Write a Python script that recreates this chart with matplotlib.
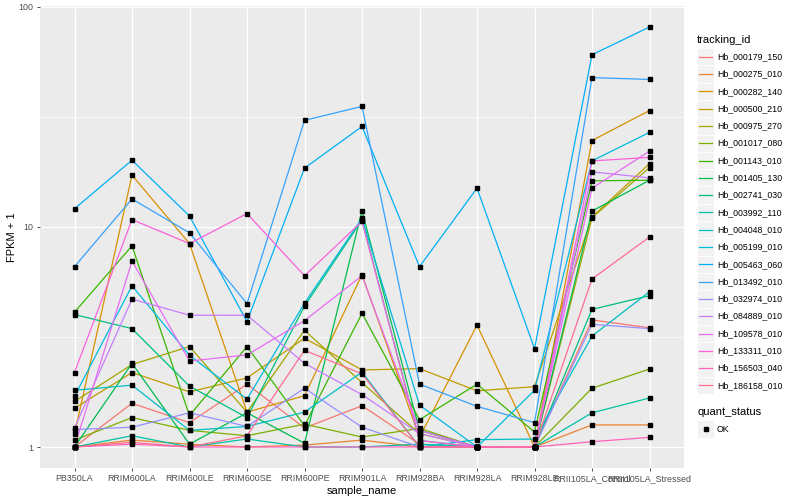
import numpy as np
import matplotlib.pyplot as plt
from matplotlib.patches import Rectangle
from matplotlib.lines import Line2D

plt.rcParams['font.family'] = ['Liberation Sans', 'DejaVu Sans']

samples = ['PB350LA', 'RRIM600LA', 'RRIM600LE', 'RRIM600SE', 'RRIM600PE', 'RRIM901LA',
           'RRIM928BA', 'RRIM928LA', 'RRIM928LE', 'RRII105LA_Control', 'RRII105LA_Stressed']

tracking_ids = ['Hb_000179_150', 'Hb_000275_010', 'Hb_000282_140', 'Hb_000500_210',
                'Hb_000975_270', 'Hb_001017_080', 'Hb_001143_010', 'Hb_001405_130',
                'Hb_002741_030', 'Hb_003992_110', 'Hb_004048_010', 'Hb_005199_010',
                'Hb_005463_060', 'Hb_013492_010', 'Hb_032974_010', 'Hb_084889_010',
                'Hb_109578_010', 'Hb_133311_010', 'Hb_156503_040', 'Hb_186158_010']

# FPKM + 1 per sample
s000179 = [1.0, 1.58, 1.29, 1.93, 1.22, 1.54, 1.03, 1.0, 1.0, 3.78, 3.48]
s000275 = [1.0, 1.075, 1.03, 1.0, 1.02, 1.075, 1.0, 1.0, 1.0, 1.26, 1.26]
s000282 = [1.145, 17.2, 8.4, 1.44, 1.71, 6.07, 1.105, 3.58, 1.0, 24.7, 33.8]
s000500 = [1.50, 2.18, 1.78, 2.06, 3.12, 2.24, 2.27, 1.80, 1.88, 11.1, 19.4]
s000975 = [1.61, 2.37, 2.86, 1.44, 3.39, 1.96, 1.15, 1.0, 1.0, 11.0, 18.6]
s001017 = [1.075, 1.36, 1.19, 1.125, 1.27, 1.11, 1.215, 1.0, 1.0, 1.85, 2.26]
s001143 = [4.1, 8.2, 1.39, 2.86, 1.25, 4.05, 1.33, 1.93, 1.17, 16.2, 16.3]
s001405 = [1.0, 2.4, 1.03, 1.43, 1.04, 11.85, 1.19, 1.0, 1.0, 11.8, 16.3]
s002741 = [4.0, 3.45, 1.89, 1.36, 4.37, 10.76, 1.07, 1.0, 1.0, 4.22, 4.87]
s003992 = [1.0, 1.125, 1.0, 1.087, 1.0, 1.0, 1.03, 1.0, 1.0, 1.43, 1.67]
s004048 = [1.81, 1.91, 1.19, 1.24, 1.44, 2.19, 1.0, 1.08, 1.087, 3.19, 5.08]
s005199 = [1.70, 5.4, 2.61, 1.65, 4.5, 10.95, 1.55, 1.0, 1.81, 19.95, 26.9]
s005463 = [12.1, 20.1, 11.2, 3.71, 18.5, 28.6, 6.6, 15.0, 2.8, 60.6, 81.0]
s013492 = [6.6, 13.4, 9.4, 4.48, 30.5, 35.3, 1.93, 1.53, 1.29, 47.7, 46.8]
s032974 = [1.2, 1.23, 1.43, 1.24, 1.85, 1.23, 1.0, 1.0, 1.0, 3.61, 3.45]
s084889 = [1.22, 4.7, 3.97, 3.97, 2.4, 1.73, 1.15, 1.0, 1.0, 17.8, 16.7]
s109578 = [1.0, 7.0, 2.46, 2.62, 3.75, 6.0, 1.19, 1.0, 1.0, 15.0, 22.1]
s133311 = [2.18, 10.8, 8.4, 11.5, 6.0, 10.6, 1.07, 1.0, 1.0, 19.95, 20.7]
s156503 = [1.0, 1.03, 1.0, 1.0, 1.0, 1.0, 1.0, 1.0, 1.0, 1.057, 1.106]
s186158 = [1.0, 1.05, 1.0, 1.125, 2.75, 2.15, 1.0, 1.0, 1.0, 5.8, 9.0]

series = [s000179, s000275, s000282, s000500, s000975, s001017, s001143, s001405,
          s002741, s003992, s004048, s005199, s005463, s013492, s032974, s084889,
          s109578, s133311, s156503, s186158]

colors = ['#F8766D', '#EA8331', '#D89000', '#C09B00', '#A3A500', '#7CAE00', '#39B600',
          '#00BB4E', '#00BF7D', '#00C1A3', '#00BFC4', '#00BAE0', '#00B0F6', '#35A2FF',
          '#9590FF', '#C77CFF', '#E76BF3', '#FA62DB', '#FF62BC', '#FF6C91']

W, H = 800, 500
fig = plt.figure(figsize=(8, 5), dpi=100)
left, right, top, bottom = 40, 684, 6, 468
ax = fig.add_axes([left / W, 1 - bottom / H, (right - left) / W, (bottom - top) / H])
ax.set_facecolor('#EBEBEB')
for sp in ax.spines.values():
    sp.set_visible(False)

x = np.arange(len(samples))
for vals, c in zip(series, colors):
    ax.plot(x, vals, color=c, lw=0.9, zorder=3)
for vals in series:
    ax.plot(x, vals, 's', color='black', ms=2.2, zorder=4)

ax.set_yscale('log')
lo = 0.0
hi = np.log10(max(max(s) for s in series))
pad = 0.05 * (hi - lo)
ax.set_ylim(10 ** (lo - pad), 10 ** (hi + pad))
ax.set_xlim(-0.6, len(samples) - 0.4)

ax.set_yticks([1, 10, 100])
ax.set_yticklabels(['1', '10', '100'])
ax.set_yticks([10 ** 0.5, 10 ** 1.5], minor=True)
ax.set_xticks(x)
ax.set_xticklabels(samples)
ax.tick_params(axis='both', which='major', length=2.5, width=0.6, color='#333333',
               labelsize=6.4, labelcolor='#4D4D4D', pad=2)
ax.tick_params(axis='y', which='minor', length=0, labelleft=False)
ax.grid(True, which='major', color='white', lw=1.0, zorder=0)
ax.grid(True, which='minor', axis='y', color='white', lw=0.5, zorder=0)
ax.set_axisbelow(True)

ax.set_xlabel('sample_name', fontsize=8, color='black', labelpad=2)
ax.set_ylabel('FPKM + 1', fontsize=8, color='black', labelpad=1)

# legends drawn by hand, ggplot style
def fx(px):
    return px / W

def fy(py):
    return 1 - py / H

fig.text(fx(697), fy(40), 'tracking_id', fontsize=8, va='center', ha='left')
key = 17.3
y0 = 56.7
for i, (name, c) in enumerate(zip(tracking_ids, colors)):
    yc = y0 + i * key
    fig.add_artist(Rectangle((fx(697), fy(yc + key / 2)), key / W, key / H,
                             transform=fig.transFigure, facecolor='#F2F2F2',
                             edgecolor='white', lw=0.6))
    fig.add_artist(Line2D([fx(699), fx(712)], [fy(yc), fy(yc)], color=c, lw=0.9,
                          transform=fig.transFigure))
    fig.text(fx(717), fy(yc), name, fontsize=6.3, va='center', ha='left')

fig.text(fx(697), fy(412), 'quant_status', fontsize=8, va='center', ha='left')
yc = 429
fig.add_artist(Rectangle((fx(697), fy(yc + key / 2)), key / W, key / H,
                         transform=fig.transFigure, facecolor='#F2F2F2',
                         edgecolor='white', lw=0.6))
fig.add_artist(Line2D([fx(705.5)], [fy(yc)], marker='s', color='black', ms=2.2,
                      transform=fig.transFigure))
fig.text(fx(717), fy(yc), 'OK', fontsize=6.3, va='center', ha='left')

fig.savefig('out.png', dpi=100)
